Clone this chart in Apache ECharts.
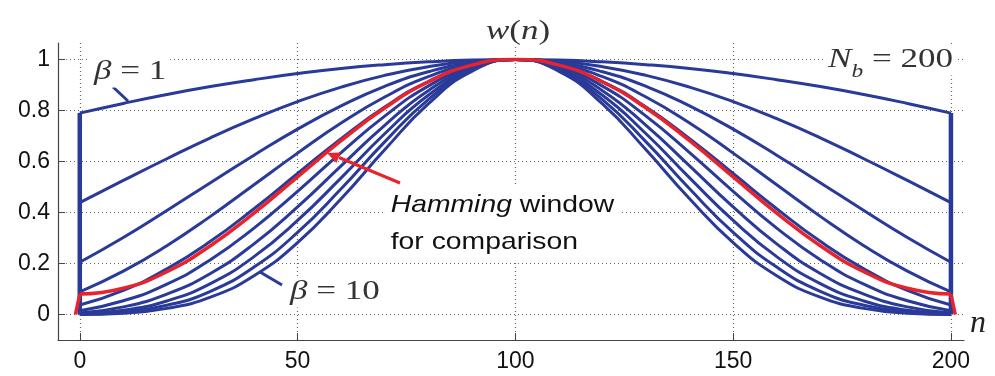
<!DOCTYPE html>
<html><head><meta charset="utf-8">
<script src="https://cdn.jsdelivr.net/npm/echarts@6/dist/echarts.min.js"></script>
<style>html,body{margin:0;padding:0;background:#fff}#c{width:995px;height:376px}</style>
</head><body><div id="c"></div>
<script>
// sample positions n
const nValues = [0,10,20,30,40,50,60,70,80,90,100,110,120,130,140,150,160,170,180,190,200];
// Kaiser windows, beta = 1..10
const beta1  = [0.790,0.828,0.863,0.894,0.921,0.945,0.965,0.980,0.991,0.998,1.000,0.998,0.991,0.980,0.965,0.945,0.921,0.894,0.863,0.828,0.790];
const beta2  = [0.439,0.526,0.611,0.693,0.768,0.835,0.892,0.938,0.972,0.993,1.000,0.993,0.972,0.938,0.892,0.835,0.768,0.693,0.611,0.526,0.439];
const beta3  = [0.205,0.302,0.408,0.517,0.625,0.727,0.818,0.895,0.952,0.988,1.000,0.988,0.952,0.895,0.818,0.727,0.625,0.517,0.408,0.302,0.205];
const beta4  = [0.089,0.170,0.270,0.385,0.509,0.633,0.751,0.853,0.933,0.983,1.000,0.983,0.933,0.853,0.751,0.633,0.509,0.385,0.270,0.170,0.089];
const beta5  = [0.037,0.095,0.179,0.287,0.415,0.553,0.690,0.814,0.914,0.978,1.000,0.978,0.914,0.814,0.690,0.553,0.415,0.287,0.179,0.095,0.037];
const beta6  = [0.015,0.054,0.119,0.215,0.339,0.483,0.635,0.778,0.896,0.973,1.000,0.973,0.896,0.778,0.635,0.483,0.339,0.215,0.119,0.054,0.015];
const beta7  = [0.006,0.030,0.080,0.161,0.277,0.422,0.583,0.742,0.878,0.968,1.000,0.968,0.878,0.742,0.583,0.422,0.277,0.161,0.080,0.030,0.006];
const beta8  = [0.002,0.017,0.053,0.121,0.227,0.369,0.536,0.709,0.860,0.963,1.000,0.963,0.860,0.709,0.536,0.369,0.227,0.121,0.053,0.017,0.002];
const beta9  = [0.001,0.010,0.036,0.091,0.186,0.322,0.493,0.677,0.843,0.959,1.000,0.959,0.843,0.677,0.493,0.322,0.186,0.091,0.036,0.010,0.001];
const beta10 = [0.000,0.005,0.024,0.068,0.152,0.282,0.454,0.646,0.826,0.954,1.000,0.954,0.826,0.646,0.454,0.282,0.152,0.068,0.024,0.005,0.000];
// Hamming window for comparison
const hamming = [0.080,0.103,0.168,0.270,0.398,0.540,0.682,0.810,0.912,0.978,1.000,0.978,0.912,0.810,0.682,0.540,0.398,0.270,0.168,0.103,0.080];
// tick labels
const xTicks = [0,50,100,150,200];
const yTicks = [0,0.2,0.4,0.6,0.8,1];

const kaiser = [beta1,beta2,beta3,beta4,beta5,beta6,beta7,beta8,beta9,beta10];
const BLUE = '#2a3a98', RED = '#e8232b';
const pairs = vals => nValues.map((n,i)=>[n, vals[i]]);
const last = nValues.length - 1;

const series = [];
kaiser.forEach((vals,k)=>{
  series.push({name:'beta='+(k+1), type:'line', data:pairs(vals), smooth:0.5, showSymbol:false,
    lineStyle:{color:BLUE, width:3}, z:2, silent:true});
});
// vertical edges of the windows
series.push({type:'line', data:[[nValues[0],0],[nValues[0],beta1[0]]], showSymbol:false, lineStyle:{color:BLUE,width:4.5}, z:2});
series.push({type:'line', data:[[nValues[last],beta1[last]],[nValues[last],0]], showSymbol:false, lineStyle:{color:BLUE,width:4.5}, z:2});
series.push({name:'Hamming', type:'line', data:pairs(hamming), smooth:0.5, showSymbol:false,
  lineStyle:{color:RED, width:3.5}, z:4});
series.push({type:'line', data:[[nValues[0]-1,0],[nValues[0],hamming[0]]], showSymbol:false, lineStyle:{color:RED,width:3.5}, z:4});
series.push({type:'line', data:[[nValues[last],hamming[last]],[nValues[last]+1,0]], showSymbol:false, lineStyle:{color:RED,width:3.5}, z:4});

const gridLine = {show:true, lineStyle:{color:'#666', type:[1,3], width:1.2}};
const chart = echarts.init(document.getElementById('c'), null, {renderer:'canvas'});
chart.setOption({
  animation:false,
  backgroundColor:'#fff',
  grid:{left:58, right:31, top:43, bottom:36, containLabel:false, outerBoundsMode:'none'},
  xAxis:{type:'value', min:-5, max:203,
    name:'n', nameLocation:'end', nameGap:6,
    nameTextStyle:{fontFamily:'Liberation Serif', fontStyle:'italic', fontSize:32, color:'#222', verticalAlign:'bottom', align:'left'},
    axisLine:{show:true, onZero:false, lineStyle:{color:'#444', width:1.2}},
    axisTick:{show:true, inside:true, length:7, customValues:xTicks, lineStyle:{color:'#444'}},
    axisLabel:{customValues:xTicks, margin:10, fontFamily:'Liberation Sans', fontSize:23, color:'#111'},
    splitLine:gridLine},
  yAxis:{type:'value', min:-0.1, max:1.065,
    axisLine:{show:true, onZero:false, lineStyle:{color:'#444', width:1.2}},
    axisTick:{show:true, inside:true, length:7, customValues:yTicks, lineStyle:{color:'#444'}},
    axisLabel:{customValues:yTicks, margin:8, fontFamily:'Liberation Sans', fontSize:23, color:'#111',
      formatter:v=>String(Math.round(v*10)/10)},
    splitLine:gridLine},
  series:series,
  graphic:[
    // beta = 1 label
    {type:'line', z:100, shape:{x1:113,y1:87,x2:128,y2:101}, style:{stroke:BLUE, lineWidth:3}},
    {type:'text', z:101, x:90, y:72, scaleX:1.3, style:{text:'{i|β} = 1', fontFamily:'Liberation Serif', fontSize:27, fill:'#333',
      align:'left', verticalAlign:'middle', backgroundColor:'#fff', padding:[2,3],
      rich:{i:{fontStyle:'italic', fontFamily:'Liberation Serif', fontSize:27, fill:'#333'}}}},
    // beta = 10 label
    {type:'line', z:100, shape:{x1:260,y1:272,x2:282,y2:285}, style:{stroke:BLUE, lineWidth:3}},
    {type:'text', z:101, x:286, y:292, scaleX:1.3, style:{text:'{i|β} = 10', fontFamily:'Liberation Serif', fontSize:27, fill:'#333',
      align:'left', verticalAlign:'middle', backgroundColor:'#fff', padding:[2,3],
      rich:{i:{fontStyle:'italic', fontFamily:'Liberation Serif', fontSize:27, fill:'#333'}}}},
    // w(n)
    {type:'text', z:101, x:518, y:32, scaleX:1.25, style:{text:'{i|w}({i|n})', fontFamily:'Liberation Serif', fontSize:28, fill:'#333',
      align:'center', verticalAlign:'middle', backgroundColor:'#fff', padding:[0,2],
      rich:{i:{fontStyle:'italic', fontFamily:'Liberation Serif', fontSize:28, fill:'#333'}}}},
    // N_b = 200
    {type:'text', z:101, x:957, y:60, scaleX:1.3, style:{text:'{i|N}{s|b} = 200', fontFamily:'Liberation Serif', fontSize:27, fill:'#333',
      align:'right', verticalAlign:'middle', backgroundColor:'#fff', padding:[2,3],
      rich:{i:{fontStyle:'italic', fontFamily:'Liberation Serif', fontSize:27, fill:'#333'},
            s:{fontStyle:'italic', fontFamily:'Liberation Serif', fontSize:18, fill:'#333', verticalAlign:'bottom', padding:[0,0,-8,0]}}}},
    // Hamming annotation
    {type:'line', z:100, shape:{x1:400,y1:183,x2:339,y2:157.5}, style:{stroke:RED, lineWidth:3}},
    {type:'polygon', z:100, shape:{points:[[327,153],[340.5,152.5],[336.5,163]]}, style:{fill:RED}},
    {type:'text', z:101, x:386, y:224, scaleX:1.18, style:{text:'{it|Hamming} window\nfor comparison', fontFamily:'Liberation Sans', fontSize:24, lineHeight:37, fill:'#111',
      align:'left', verticalAlign:'middle', backgroundColor:'#fff', padding:[2,4],
      rich:{it:{fontStyle:'italic', fontFamily:'Liberation Sans', fontSize:24, lineHeight:37, fill:'#111'}}}}
  ]
});
</script></body></html>
